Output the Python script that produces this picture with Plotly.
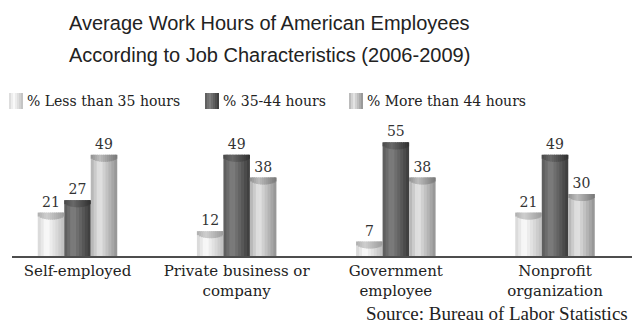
import plotly.graph_objects as go

# ---------------- data ----------------
categories = ["Self-employed", "Private business or<br>company",
              "Government<br>employee", "Nonprofit<br>organization"]
series_names = ["% Less than 35 hours", "% 35-44 hours", "% More than 44 hours"]
less_than_35 = [21, 12, 7, 21]
between_35_44 = [27, 49, 55, 49]
more_than_44 = [49, 38, 38, 30]
title_line1 = "Average Work Hours of American Employees"
title_line2 = "According to Job Characteristics (2006-2009)"
source_text = "Source: Bureau of Labor Statistics"

series_values = [less_than_35, between_35_44, more_than_44]

# ---------------- style ----------------
W, H = 632, 328
M_T, M_B = 120, 72
PLOT_H = H - M_T - M_B
PX_PER_UNIT = 2.065
SERIF = "DejaVu Serif"
SANS = "Liberation Sans"

# horizontal gradient stops for each series (cylinder look)
grads = [
    [(0.0, (212, 212, 212)), (0.33, (252, 252, 252)), (1.0, (190, 190, 190))],
    [(0.0, (88, 88, 88)), (0.33, (128, 128, 128)), (1.0, (58, 58, 58))],
    [(0.0, (175, 175, 175)), (0.33, (230, 230, 230)), (1.0, (145, 145, 145))],
]


def grad_color(stops, t, factor=1.0):
    for (t0, c0), (t1, c1) in zip(stops[:-1], stops[1:]):
        if t <= t1:
            f = (t - t0) / (t1 - t0) if t1 > t0 else 0
            c = [c0[i] + (c1[i] - c0[i]) * f for i in range(3)]
            break
    else:
        c = stops[-1][1]
    c = [max(0, min(255, int(round(v * factor)))) for v in c]
    return "rgb(%d,%d,%d)" % tuple(c)


BAR_W = 0.1665
K = 9
K_CAP = 13
CAP_EDGE_PX, CAP_MID_PX = 2, 7

fig = go.Figure()

# bodies
for s, vals in enumerate(series_values):
    left = (s - 1) * BAR_W - BAR_W / 2
    sw = BAR_W / K
    for k in range(K):
        t = (k + 0.5) / K
        width = sw * 1.5 if k < K - 1 else sw
        fig.add_trace(go.Bar(
            x=categories, y=vals, offset=left + k * sw, width=width,
            marker=dict(color=grad_color(grads[s], t), line=dict(width=0)),
            showlegend=False, hoverinfo="skip"))

# curved darker lids on top of the cylinders
for s, vals in enumerate(series_values):
    left = (s - 1) * BAR_W - BAR_W / 2
    sw = BAR_W / K_CAP
    for k in range(K_CAP):
        t = (k + 0.5) / K_CAP
        width = sw * 1.5 if k < K_CAP - 1 else sw
        u = 2 * t - 1
        hpx = CAP_EDGE_PX + (CAP_MID_PX - CAP_EDGE_PX) * max(0.0, 1 - u * u) ** 0.5
        h = hpx / PX_PER_UNIT
        fig.add_trace(go.Bar(
            x=categories, y=[h] * len(vals), base=[v - h for v in vals],
            offset=left + k * sw, width=width,
            marker=dict(color=grad_color(grads[s], t, 0.82), line=dict(width=0)),
            showlegend=False, hoverinfo="skip"))

# value labels
for s, vals in enumerate(series_values):
    left = (s - 1) * BAR_W - BAR_W / 2
    fig.add_trace(go.Bar(
        x=categories, y=vals, offset=left, width=BAR_W,
        marker=dict(color="rgba(0,0,0,0)", line=dict(width=0)),
        text=[str(v) for v in vals], textposition="outside",
        constraintext="none", cliponaxis=False,
        textfont=dict(family=SERIF, size=14, color="#333333"),
        showlegend=False, hoverinfo="skip"))

# ---------------- layout helpers ----------------
def px_x(px):
    return px / W


def px_y(py):
    return (H - M_B - py) / PLOT_H


annotations = [
    dict(text=title_line1, x=px_x(67), y=px_y(23), xref="paper", yref="paper",
         xanchor="left", yanchor="middle", showarrow=False,
         font=dict(family=SANS, size=20, color="#222222")),
    dict(text=title_line2, x=px_x(67), y=px_y(55), xref="paper", yref="paper",
         xanchor="left", yanchor="middle", showarrow=False,
         font=dict(family=SANS, size=20, color="#222222")),
    dict(text=source_text, x=px_x(630), y=px_y(313), xref="paper", yref="paper",
         xanchor="right", yanchor="middle", showarrow=False,
         font=dict(family="Liberation Serif", size=19, color="#222222")),
]

shapes = []
legend_swatch_x = [9, 205, 349]
legend_text_x = [25, 221, 365]
for s in range(3):
    x0 = legend_swatch_x[s]
    n = 7
    sw = 14 / n
    for k in range(n):
        t = (k + 0.5) / n
        shapes.append(dict(
            type="rect", xref="paper", yref="paper",
            x0=px_x(x0 + k * sw), x1=px_x(x0 + (k + 1) * sw + (0.6 if k < n - 1 else 0)),
            y0=px_y(109), y1=px_y(93),
            fillcolor=grad_color(grads[s], t), line=dict(width=0), layer="above"))
    annotations.append(dict(
        text=series_names[s], x=px_x(legend_text_x[s]), y=px_y(101),
        xref="paper", yref="paper", xanchor="left", yanchor="middle",
        showarrow=False, font=dict(family=SERIF, size=14, color="#222222")))

x_center0, step = 77.5, 159.17
AX_LEFT = 12
fig.update_layout(
    width=W, height=H,
    margin=dict(l=0, r=0, t=M_T, b=M_B, pad=0),
    paper_bgcolor="white", plot_bgcolor="white",
    barmode="overlay", showlegend=False,
    annotations=annotations, shapes=shapes,
    xaxis=dict(
        domain=[AX_LEFT / W, 1],
        range=[(AX_LEFT - x_center0) / step, (W - x_center0) / step],
        showline=True, linecolor="#4d4d4d", linewidth=2,
        ticks="", showgrid=False, zeroline=False,
        tickfont=dict(family=SERIF, size=15, color="#222222"),
    ),
    yaxis=dict(range=[0, PLOT_H / PX_PER_UNIT], visible=False, showgrid=False,
               zeroline=False, fixedrange=True),
)

fig.write_html("out.html")
